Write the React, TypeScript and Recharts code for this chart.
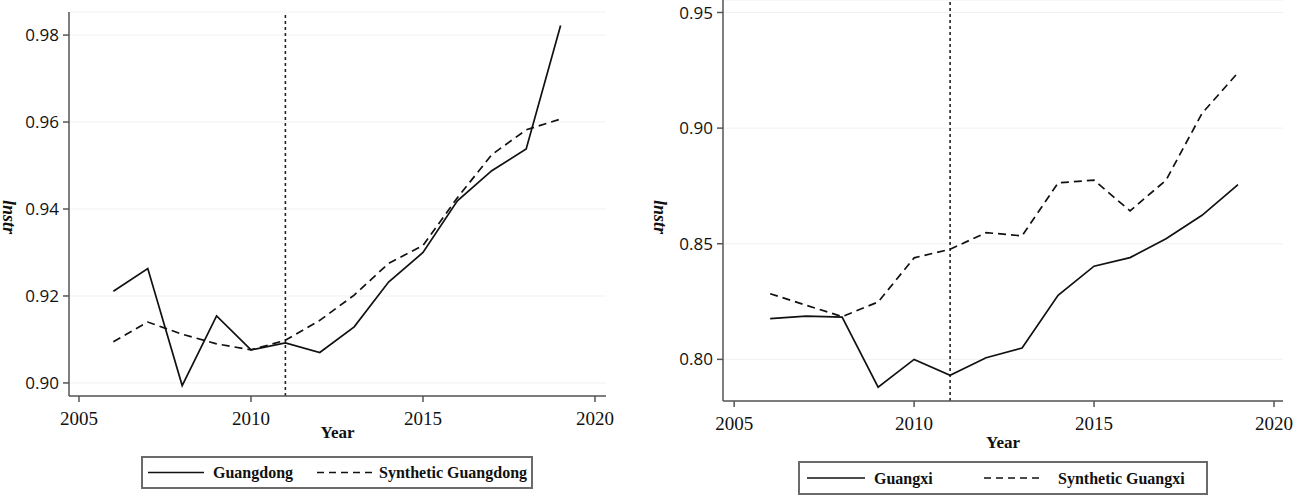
import React from "react";
import { LineChart, Line, XAxis, YAxis, CartesianGrid, ReferenceLine } from "recharts";

const years = [2006, 2007, 2008, 2009, 2010, 2011, 2012, 2013, 2014, 2015, 2016, 2017, 2018, 2019];

const guangdong = [0.9211, 0.9263, 0.8994, 0.9154, 0.9076, 0.9092, 0.907, 0.9129, 0.9232, 0.93, 0.9419, 0.9488, 0.9538, 0.9822];
const synthGuangdong = [0.9095, 0.914, 0.9112, 0.909, 0.9076, 0.9098, 0.9144, 0.9202, 0.9275, 0.9316, 0.9426, 0.9525, 0.9582, 0.9607];

const guangxi = [0.8176, 0.8187, 0.8183, 0.788, 0.8, 0.7931, 0.8007, 0.8049, 0.8277, 0.8403, 0.844, 0.8522, 0.8623, 0.8756];
const synthGuangxi = [0.8284, 0.8234, 0.8185, 0.8248, 0.8439, 0.8476, 0.8548, 0.8534, 0.8763, 0.8775, 0.8642, 0.8775, 0.9064, 0.924];

const yearTicks = [2005, 2010, 2015, 2020];
const leftTicks = [0.9, 0.92, 0.94, 0.96, 0.98];
const rightTicks = [0.8, 0.85, 0.9, 0.95];
const treatYear = 2011;

const leftData = years.map((year, i) => ({ year, actual: guangdong[i], synth: synthGuangdong[i] }));
const rightData = years.map((year, i) => ({ year, actual: guangxi[i], synth: synthGuangxi[i] }));

const AXIS = "#555";
const SERIF = "'Liberation Serif', 'Times New Roman', serif";
const SANS = "'Open Sans', sans-serif";

function Panel({
  data,
  width,
  margin,
  yWidth,
  xDomain,
  yDomain,
  yTicks,
  yearDy,
  ylabX,
}: {
  data: { year: number; actual: number; synth: number }[];
  width: number;
  margin: { top: number; right: number; bottom: number; left: number };
  yWidth: number;
  xDomain: [number, number];
  yDomain: [number, number];
  yTicks: number[];
  yearDy: number;
  ylabX: number;
}) {
  return (
    <LineChart width={width} height={500} data={data} margin={margin}>
      <CartesianGrid vertical={false} stroke="#f1f1f1" strokeWidth={1} />
      <XAxis
        dataKey="year"
        type="number"
        domain={xDomain}
        allowDataOverflow
        ticks={yearTicks}
        height={30}
        stroke={AXIS}
        strokeWidth={1.5}
        tickSize={6}
        tickMargin={10}
        tick={{ fill: "#111", fontSize: 19, fontFamily: SERIF }}
        label={({ viewBox }: any) => (
          <text
            x={viewBox.x + viewBox.width / 2}
            y={viewBox.y + yearDy}
            textAnchor="middle"
            dominantBaseline="central"
            fontFamily={SERIF}
            fontWeight="bold"
            fontSize={17}
            fill="#111"
          >
            Year
          </text>
        )}
      />
      <YAxis
        type="number"
        domain={yDomain}
        allowDataOverflow
        ticks={yTicks}
        width={yWidth}
        stroke={AXIS}
        strokeWidth={1.5}
        tickSize={6}
        tickMargin={4}
        tickFormatter={(v: number) => v.toFixed(2)}
        tick={{ fill: "#111", fontSize: 17, fontFamily: SANS }}
        label={() => {
          const cy = 217;
          return (
            <text
              x={ylabX}
              y={cy}
              textAnchor="middle"
              dominantBaseline="central"
              transform={`rotate(90, ${ylabX}, ${cy})`}
              fontFamily={SERIF}
              fontWeight="bold"
              fontStyle="italic"
              fontSize={18}
              fill="#111"
            >
              lnstr
            </text>
          );
        }}
      />
      <ReferenceLine x={treatYear} stroke="#222" strokeWidth={1.6} strokeDasharray="3 3" />
      <Line
        type="linear"
        dataKey="synth"
        stroke="#111"
        strokeWidth={1.7}
        strokeDasharray="8 5"
        dot={false}
        isAnimationActive={false}
      />
      <Line type="linear" dataKey="actual" stroke="#111" strokeWidth={1.7} dot={false} isAnimationActive={false} />
    </LineChart>
  );
}

function LegendBox({
  left,
  top,
  width,
  height,
  items,
}: {
  left: number;
  top: number;
  width: number;
  height: number;
  items: { label: string; dashed: boolean; lineX: number; lineW: number; textX: number }[];
}) {
  return (
    <div
      style={{
        position: "absolute",
        left,
        top,
        width,
        height,
        border: "2px solid #6a6a6a",
        boxSizing: "border-box",
        background: "#fff",
      }}
    >
      <svg width={width - 4} height={height - 4} style={{ display: "block" }}>
        {items.map((it) => (
          <g key={it.label}>
            <line
              x1={it.lineX}
              x2={it.lineX + it.lineW}
              y1={(height - 4) / 2}
              y2={(height - 4) / 2}
              stroke="#111"
              strokeWidth={1.7}
              strokeDasharray={it.dashed ? "7 5" : undefined}
            />
            <text
              x={it.textX}
              y={(height - 4) / 2}
              dominantBaseline="central"
              fontFamily={SERIF}
              fontWeight="bold"
              fontSize={16}
              fill="#111"
            >
              {it.label}
            </text>
          </g>
        ))}
      </svg>
    </div>
  );
}

export default function App() {
  return (
    <div style={{ position: "absolute", left: 0, top: 0, width: 1299, height: 500, background: "#fff" }}>
      <div style={{ position: "absolute", left: 0, top: 0 }}>
        <Panel
          data={leftData}
          width={650}
          margin={{ top: 12, right: 44, bottom: 74, left: 0 }}
          yWidth={69}
          xDomain={[2004.71, 2020.32]}
          yDomain={[0.897, 0.9853]}
          yTicks={leftTicks}
          yearDy={36}
          ylabX={9}
        />
      </div>
      <div style={{ position: "absolute", left: 650, top: 0 }}>
        <Panel
          data={rightData}
          width={649}
          margin={{ top: 0, right: 16, bottom: 69, left: 0 }}
          yWidth={73}
          xDomain={[2004.69, 2020.25]}
          yDomain={[0.782, 0.9554]}
          yTicks={rightTicks}
          yearDy={41}
          ylabX={10}
        />
      </div>
      <LegendBox
        left={141}
        top={456}
        width={392}
        height={33}
        items={[
          { label: "Guangdong", dashed: false, lineX: 5, lineW: 56, textX: 70 },
          { label: "Synthetic Guangdong", dashed: true, lineX: 174, lineW: 60, textX: 236 },
        ]}
      />
      <LegendBox
        left={798}
        top={461}
        width={410}
        height={34}
        items={[
          { label: "Guangxi", dashed: false, lineX: 7, lineW: 58, textX: 74 },
          { label: "Synthetic Guangxi", dashed: true, lineX: 184, lineW: 60, textX: 258 },
        ]}
      />
    </div>
  );
}
